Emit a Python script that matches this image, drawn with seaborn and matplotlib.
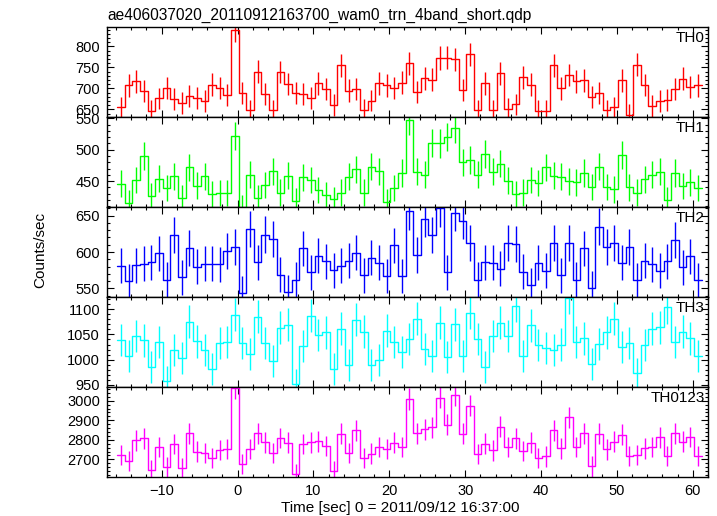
import numpy as np
import pandas as pd
import matplotlib
matplotlib.use("Agg")
import matplotlib.pyplot as plt
from matplotlib.ticker import MultipleLocator
import seaborn as sns

# ---------------- data ----------------
title = "ae406037020_20110912163700_wam0_trn_4band_short.qdp"
xlabel = "Time [sec] 0 = 2011/09/12 16:37:00"
ylabel = "Counts/sec"
band_names = ["TH0", "TH1", "TH2", "TH3", "TH0123"]
band_colors = ["#ff0000", "#00ff00", "#0000ff", "#00ffff", "#ff00ff"]

time_start = -15.85   # left edge of first 1-s bin
bin_width = 1.0

th0 = [655, 707, 717, 694, 646, 676, 701, 675, 666, 681, 678, 670, 709, 701, 685,
       840, 690, 648, 740, 686, 648, 739, 710, 688, 686, 677, 712, 698, 660, 755,
       695, 698, 649, 671, 712, 707, 701, 714, 760,
       692, 724, 721, 772, 773, 769, 697, 781, 648, 712, 648, 736, 652, 662, 726,
       709, 646, 646, 755, 700, 732, 717, 719, 679, 690, 648, 655, 719, 637, 756,
       708, 658, 670, 672, 698, 723, 704, 707]
th1 = [446, 415, 452, 490, 426, 454, 439, 458, 423, 472, 443, 458, 430, 431, 431,
       522, 408, 460, 423, 444, 466, 432, 459, 419, 456, 452, 436, 428, 421, 432,
       457, 469, 432, 473, 466, 417, 439, 463, 547,
       465, 460, 511, 510, 520, 534, 480, 484, 460, 493, 465, 478, 451, 429, 432,
       452, 447, 472, 459, 457, 450, 448, 463, 441, 473, 441, 437, 491, 440, 432,
       453, 460, 465, 420, 463, 442, 448, 439]
th2 = [581, 560, 582, 584, 586, 598, 562, 623, 565, 606, 580, 584, 584, 583, 601,
       607, 543, 632, 586, 624, 618, 569, 545, 562, 605, 572, 595, 587, 575, 581,
       588, 599, 568, 592, 585, 567, 609, 567, 656,
       596, 646, 623, 660, 572, 654, 643, 613, 562, 586, 585, 577, 613, 611, 573,
       554, 585, 574, 613, 568, 612, 562, 605, 550, 635, 607, 613, 585, 607, 561,
       588, 583, 574, 587, 616, 579, 594, 561]
th3 = [1039, 1007, 1047, 1038, 985, 1035, 957, 1019, 1003, 1075, 1036, 1019, 981,
       1033, 1035, 1089, 1033, 1011, 1085, 1033, 997, 1063, 1069, 951, 1027, 1087,
       1049, 1054, 981, 1061, 989, 1079, 1055, 989, 999, 1057, 1035, 1015, 1041,
       1081, 1021, 1007, 1073, 1005, 1070, 1007, 1093, 1041, 985, 1047, 1073, 1047,
       1107, 1007, 1068, 1029, 1023, 1019, 1030, 1123, 1035, 1042, 991, 1031, 1054,
       1081, 1025, 1033, 973, 1029, 1061, 1064, 1104, 1035, 1055, 1042, 1007]
th0123 = [2723, 2693, 2798, 2807, 2647, 2763, 2662, 2778, 2655, 2834, 2740, 2732,
          2706, 2749, 2752, 3064, 2677, 2752, 2834, 2788, 2734, 2809, 2785, 2625,
          2778, 2788, 2793, 2768, 2642, 2831, 2734, 2848, 2706, 2730, 2763, 2752,
          2786, 2764, 3008,
          2834, 2855, 2865, 3016, 2877, 3028, 2831, 2974, 2727, 2780, 2746, 2866,
          2764, 2807, 2742, 2786, 2706, 2715, 2849, 2757, 2916, 2764, 2834, 2664,
          2831, 2751, 2790, 2826, 2717, 2723, 2757, 2764, 2812, 2717, 2834, 2790,
          2814, 2717]

band_values = [th0, th1, th2, th3, th0123]
y_limits = [(632, 846), (409, 552), (538, 662), (946, 1124), (2610, 3070)]
y_major = [50, 50, 50, 50, 100]
y_minor = [10, 10, 10, 10, 20]
x_limits = (-17.2, 62.0)

# ---------------- style ----------------
sns.set_theme(style="ticks")
plt.rcParams["font.family"] = ["Liberation Sans", "DejaVu Sans"]
plt.rcParams["axes.linewidth"] = 1.0
for k in ["text.color", "axes.labelcolor", "xtick.color", "ytick.color",
          "xtick.labelcolor", "ytick.labelcolor", "axes.edgecolor"]:
    plt.rcParams[k] = "black"

fig = plt.figure(figsize=(7.17, 5.16), dpi=100)
left, right = 107 / 717, 708 / 717
bottom, top = 1 - 477 / 516, 1 - 27 / 516
gs = fig.add_gridspec(5, 1, left=left, right=right, bottom=bottom, top=top, hspace=0)
axes = [fig.add_subplot(gs[i, 0]) for i in range(5)]

for i, (ax, name, vals, col) in enumerate(zip(axes, band_names, band_values, band_colors)):
    vals = np.asarray(vals, dtype=float)
    n = len(vals)
    edges = time_start + bin_width * np.arange(n + 1)
    centers = edges[:-1] + bin_width / 2
    df = pd.DataFrame({"t": edges, "rate": np.append(vals, vals[-1])})
    sns.lineplot(data=df, x="t", y="rate", drawstyle="steps-post", color=col,
                 lw=1.0, ax=ax, estimator=None, sort=False, legend=False)
    ax.errorbar(centers, vals, yerr=np.sqrt(vals), fmt="none", ecolor=col,
                elinewidth=1.0, capsize=0)
    ax.set_xlim(*x_limits)
    ax.set_ylim(*y_limits[i])
    ax.xaxis.set_major_locator(MultipleLocator(10))
    ax.xaxis.set_minor_locator(MultipleLocator(2))
    ax.yaxis.set_major_locator(MultipleLocator(y_major[i]))
    ax.yaxis.set_minor_locator(MultipleLocator(y_minor[i]))
    ax.tick_params(which="both", direction="in", top=True, right=True,
                   bottom=True, left=True, color="black", width=0.8,
                   labelcolor="black")
    ax.tick_params(which="major", length=5, labelsize=10.5, pad=5)
    ax.tick_params(which="minor", length=2.5)
    ax.set_xlabel("")
    ax.set_ylabel("")
    for s in ax.spines.values():
        s.set_color("black")
        s.set_linewidth(1.0)
    if i < 4:
        ax.tick_params(labelbottom=False)
    ax.text(0.995, 0.96, name, transform=ax.transAxes, ha="right", va="top",
            fontsize=11, color="black")

fig.text(left, 1 - 20 / 516, title, ha="left", va="baseline", fontsize=11.2,
         color="black")
fig.text((left + right) / 2 - 0.01, 1 - 508 / 516, xlabel, ha="center",
         va="center", fontsize=11, color="black")
fig.text(40 / 717, 1 - 250 / 516, ylabel, rotation=90, ha="center",
         va="center", fontsize=11, color="black")

fig.savefig("out.png", dpi=100)
